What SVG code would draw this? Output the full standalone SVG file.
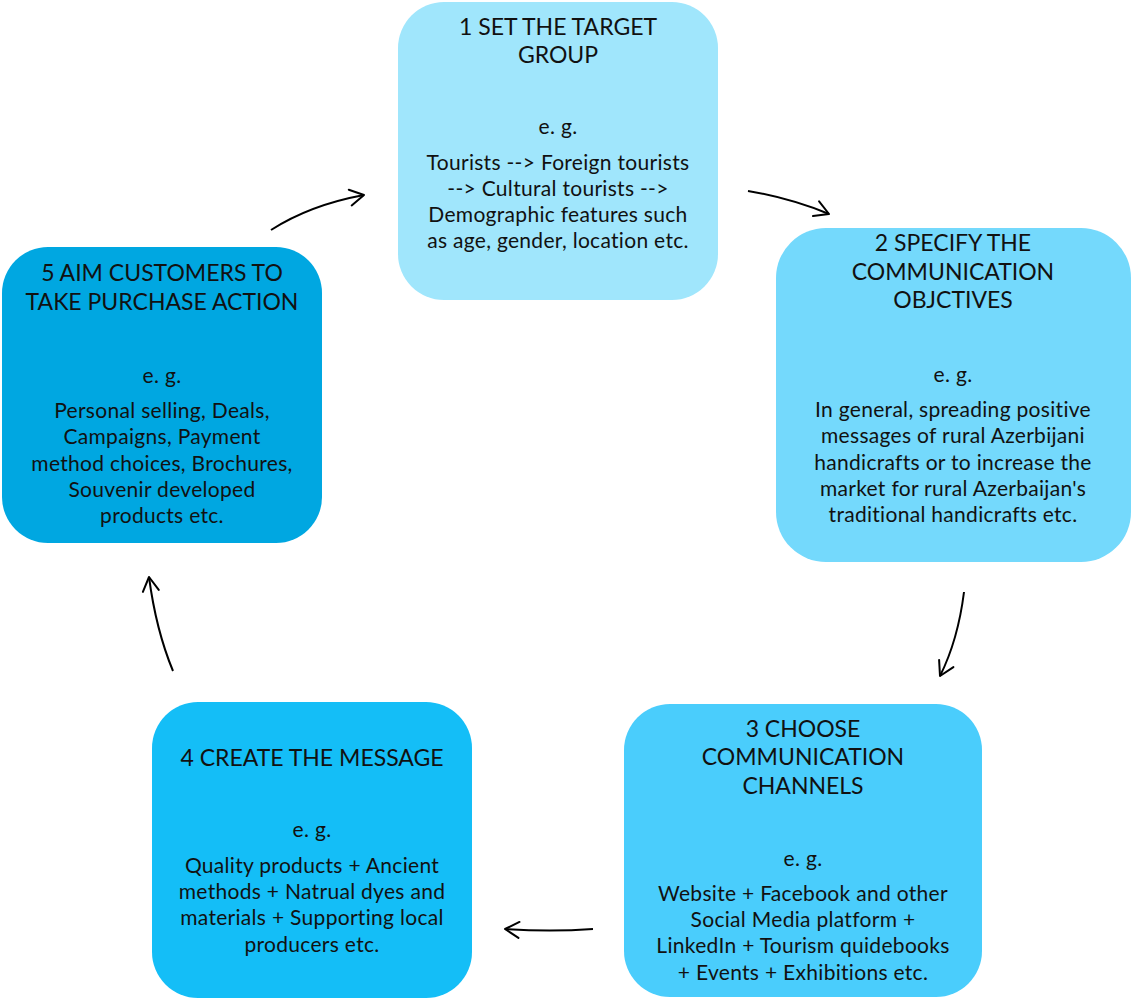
<svg xmlns="http://www.w3.org/2000/svg" width="1131" height="999" viewBox="0 0 1131 999">
  <defs>
    <marker id="head" viewBox="0 0 20 20" refX="18" refY="10" markerWidth="20" markerHeight="20" markerUnits="userSpaceOnUse" orient="auto">
      <path d="M4,2 L18,10 L4,18" fill="none" stroke="#000" stroke-width="2" stroke-linecap="round" stroke-linejoin="round"/>
    </marker>
  </defs>
  <style>
    .title { font-family: Lato, "Open Sans", sans-serif; font-size: 23px; fill: #111; text-anchor: middle; }
    .body { font-family: Lato, "Open Sans", sans-serif; font-size: 21px; letter-spacing: 0.3px; fill: #111; text-anchor: middle; }
    .link { fill: none; stroke: #000; stroke-width: 2; marker-end: url(#head); }
  </style>
  <rect width="1131" height="999" fill="#fff"/>

  <g id="connectors">
    <path class="link" d="M271,230 Q310,205 364,195"/>
    <path class="link" d="M748,191 Q790,198 829,214"/>
    <path class="link" d="M964,592 Q958,640 940,676"/>
    <path class="link" d="M593,929 Q550,932 505,929"/>
    <path class="link" d="M173,671 Q156,630 149,577"/>
  </g>

  <g id="node1">
    <rect x="398" y="2" width="320" height="298" rx="46" fill="#a0e6fc"/>
    <text class="title" x="558" y="35">1 SET THE TARGET</text>
    <text class="title" x="558" y="63">GROUP</text>
    <text class="body" x="558" y="134">e. g.</text>
    <text class="body" x="558" y="170">Tourists --&gt; Foreign tourists</text>
    <text class="body" x="558" y="196">--&gt; Cultural tourists --&gt;</text>
    <text class="body" x="558" y="222">Demographic features such</text>
    <text class="body" x="558" y="248">as age, gender, location etc.</text>
  </g>

  <g id="node2">
    <rect x="776" y="228" width="355" height="334" rx="50" fill="#74d9fc"/>
    <text class="title" x="953" y="251">2 SPECIFY THE</text>
    <text class="title" x="953" y="280">COMMUNICATION</text>
    <text class="title" x="953" y="308">OBJCTIVES</text>
    <text class="body" x="953" y="382">e. g.</text>
    <text class="body" x="953" y="417">In general, spreading positive</text>
    <text class="body" x="953" y="443">messages of rural Azerbijani</text>
    <text class="body" x="953" y="470">handicrafts or to increase the</text>
    <text class="body" x="953" y="496">market for rural Azerbaijan's</text>
    <text class="body" x="953" y="522">traditional handicrafts etc.</text>
  </g>

  <g id="node3">
    <rect x="624" y="704" width="358" height="293" rx="46" fill="#4acdfc"/>
    <text class="title" x="803" y="737">3 CHOOSE</text>
    <text class="title" x="803" y="765">COMMUNICATION</text>
    <text class="title" x="803" y="794">CHANNELS</text>
    <text class="body" x="803" y="866">e. g.</text>
    <text class="body" x="803" y="901">Website + Facebook and other</text>
    <text class="body" x="803" y="927">Social Media platform +</text>
    <text class="body" x="803" y="953">LinkedIn + Tourism quidebooks</text>
    <text class="body" x="803" y="980">+ Events + Exhibitions etc.</text>
  </g>

  <g id="node4">
    <rect x="152" y="702" width="320" height="296" rx="46" fill="#14bef7"/>
    <text class="title" x="312" y="766">4 CREATE THE MESSAGE</text>
    <text class="body" x="312" y="837">e. g.</text>
    <text class="body" x="312" y="873">Quality products + Ancient</text>
    <text class="body" x="312" y="899">methods + Natrual dyes and</text>
    <text class="body" x="312" y="925">materials + Supporting local</text>
    <text class="body" x="312" y="952">producers etc.</text>
  </g>

  <g id="node5">
    <rect x="2" y="247" width="320" height="296" rx="46" fill="#00a7e1"/>
    <text class="title" x="162" y="281">5 AIM CUSTOMERS TO</text>
    <text class="title" x="162" y="310">TAKE PURCHASE ACTION</text>
    <text class="body" x="162" y="383">e. g.</text>
    <text class="body" x="162" y="418">Personal selling, Deals,</text>
    <text class="body" x="162" y="444">Campaigns, Payment</text>
    <text class="body" x="162" y="471">method choices, Brochures,</text>
    <text class="body" x="162" y="497">Souvenir developed</text>
    <text class="body" x="162" y="523">products etc.</text>
  </g>
</svg>
